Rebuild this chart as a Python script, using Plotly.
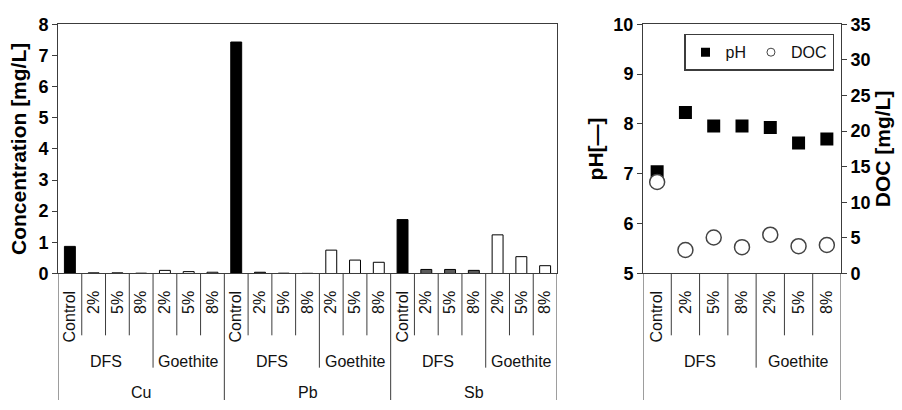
import plotly.graph_objects as go

# ---------------- data ----------------
elements = ["Cu", "Pb", "Sb"]
treatments = ["Control", "2%", "5%", "8%", "2%", "5%", "8%"]
groups = ["DFS", "DFS", "DFS", "DFS", "Goethite", "Goethite", "Goethite"]
kinds = ["Control", "DFS", "DFS", "DFS", "Goethite", "Goethite", "Goethite"]

cu_conc = [0.87, 0.02, 0.02, 0.01, 0.10, 0.06, 0.04]
pb_conc = [7.43, 0.04, 0.01, 0.005, 0.75, 0.43, 0.36]
sb_conc = [1.73, 0.13, 0.13, 0.10, 1.24, 0.54, 0.25]

ph_values = [7.04, 8.23, 7.96, 7.96, 7.93, 7.62, 7.70]
doc_values = [12.85, 3.3, 5.05, 3.7, 5.45, 3.84, 4.0]

conc_ticks = [0, 1, 2, 3, 4, 5, 6, 7, 8]
ph_ticks = [5, 6, 7, 8, 9, 10]
doc_ticks = [0, 5, 10, 15, 20, 25, 30, 35]

# ---------------- layout constants ----------------
W, H = 902, 410
FONT = "Liberation Sans, Arial, sans-serif"
LINE = "#3c3c3c"
kind_colors = {"Control": "#000000", "DFS": "#5a5a5a", "Goethite": "#ffffff"}


def py(px):  # pixel from top -> paper y
    return (H - px) / H


def bold(vals):
    return ["<b>%s</b>" % v for v in vals]


axis_bottom = py(277)
axis_top = py(15)
short_end = py(342)
group_end = py(376)
full_end = 0.0

fig = go.Figure()

# ---------------- left chart: bars ----------------
conc_all = [cu_conc, pb_conc, sb_conc]
n_t = len(treatments)
for kind in ["Control", "DFS", "Goethite"]:
    xs, ys = [], []
    for ei, vals in enumerate(conc_all):
        for ti, v in enumerate(vals):
            if kinds[ti] == kind:
                xs.append(ei * n_t + ti)
                ys.append(v)
    fig.add_trace(go.Bar(
        x=xs, y=ys, width=0.46, xaxis="x", yaxis="y",
        marker=dict(color=kind_colors[kind], line=dict(color="#000000", width=1)),
        showlegend=False, name=kind,
    ))

# ---------------- right chart: pH & DOC ----------------
xr = list(range(len(treatments)))
ph_marker = dict(symbol="square", color="#000000")
doc_marker = dict(symbol="circle", color="#ffffff", line=dict(color="#444444", width=1.5))
fig.add_trace(go.Scatter(
    x=xr, y=ph_values, xaxis="x2", yaxis="y2", mode="markers", name="pH",
    marker=dict(size=13, **ph_marker), showlegend=False,
))
fig.add_trace(go.Scatter(
    x=xr, y=doc_values, xaxis="x2", yaxis="y3", mode="markers", name="DOC",
    marker=dict(size=15, **doc_marker), showlegend=False,
))
# legend entries (smaller symbols, as in the original legend)
fig.add_trace(go.Scatter(x=[None], y=[None], xaxis="x2", yaxis="y2", mode="markers",
                         name="pH", marker=dict(size=9, **ph_marker)))
fig.add_trace(go.Scatter(x=[None], y=[None], xaxis="x2", yaxis="y3", mode="markers",
                         name="DOC", marker=dict(size=8, symbol="circle", color="#ffffff",
                                                 line=dict(color="#444444", width=1))))

shapes = []
annotations = []


def category_axis(xref, n_elem):
    """separator lines + group labels for a hierarchical category axis"""
    total = n_elem * n_t
    for b in range(total + 1):
        xb = b - 0.5
        if b % n_t == 0:
            end = full_end
        else:
            ti = b % n_t
            end = group_end if groups[ti] != groups[ti - 1] else short_end
        shapes.append(dict(type="line", xref=xref, yref="paper", x0=xb, x1=xb,
                           y0=axis_bottom, y1=end, line=dict(color=LINE, width=1)))
    for ei in range(n_elem):
        start = 0
        for ti in range(1, n_t + 1):
            if ti == n_t or groups[ti] != groups[start]:
                annotations.append(dict(
                    xref=xref, yref="paper", x=ei * n_t + (start + ti - 1) / 2,
                    y=py(369), text=groups[start], showarrow=False,
                    font=dict(size=16, color="#111", family=FONT),
                    xanchor="center", yanchor="middle"))
                start = ti


category_axis("x", len(elements))
category_axis("x2", 1)
for ei, el in enumerate(elements):
    annotations.append(dict(
        xref="x", yref="paper", x=ei * n_t + (n_t - 1) / 2, y=py(402), text=el,
        showarrow=False, font=dict(size=16, color="#111", family=FONT),
        xanchor="center", yanchor="middle"))

tick_font = dict(size=18, color="#000", family="Liberation Sans", weight=700)
title_font = dict(size=21, color="#000", family=FONT, weight="bold")
cat_font = dict(size=16, color="#111", family=FONT)

fig.update_layout(
    width=W, height=H, autosize=False,
    margin=dict(l=0, r=0, t=0, b=0),
    paper_bgcolor="white", plot_bgcolor="white",
    barmode="overlay",
    font=dict(family=FONT),
    xaxis=dict(domain=[58 / W, 557 / W], anchor="y",
               range=[-0.5, len(elements) * n_t - 0.5],
               tickvals=list(range(len(elements) * n_t)),
               ticktext=treatments * len(elements),
               tickangle=-90, ticks="", tickfont=cat_font,
               ticklabelstandoff=10,
               showline=True, linecolor=LINE, linewidth=1, mirror=True,
               showgrid=False, zeroline=False),
    yaxis=dict(domain=[axis_bottom, axis_top], anchor="x",
               range=[0, 8], tickvals=conc_ticks, ticktext=bold(conc_ticks),
               ticks="outside", ticklen=5,
               tickcolor=LINE, tickfont=tick_font,
               showline=True, linecolor=LINE, linewidth=1, mirror=True,
               showgrid=False, zeroline=False,
               title=dict(text="Concentration [mg/L]", font=title_font, standoff=6)),
    xaxis2=dict(domain=[643 / W, 841 / W], anchor="y2",
                range=[-0.5, n_t - 0.5],
                tickvals=xr, ticktext=treatments,
                tickangle=-90, ticks="", tickfont=cat_font,
                ticklabelstandoff=10,
                showline=True, linecolor=LINE, linewidth=1, mirror=True,
                showgrid=False, zeroline=False),
    yaxis2=dict(domain=[axis_bottom, axis_top], anchor="x2",
                range=[5, 10], tickvals=ph_ticks, ticktext=bold(ph_ticks),
                ticks="outside", ticklen=5,
                tickcolor=LINE, tickfont=tick_font,
                showline=True, linecolor=LINE, linewidth=1,
                showgrid=False, zeroline=False,
                title=dict(text="pH[—]", font=title_font, standoff=4)),
    yaxis3=dict(overlaying="y2", anchor="x2", side="right",
                range=[0, 35], tickvals=doc_ticks, ticktext=bold(doc_ticks),
                ticks="outside", ticklen=5,
                tickcolor=LINE, tickfont=tick_font,
                showline=True, linecolor=LINE, linewidth=1,
                showgrid=False, zeroline=False,
                title=dict(text="DOC [mg/L]", font=title_font, standoff=4)),
    legend=dict(x=684 / W, y=py(25), xanchor="left", yanchor="top",
                orientation="h", bordercolor=LINE, borderwidth=1.5,
                bgcolor="white", font=dict(size=16, color="#111", family=FONT),
                itemwidth=30),
    shapes=shapes,
    annotations=annotations,
)

fig.write_html("out.html")
